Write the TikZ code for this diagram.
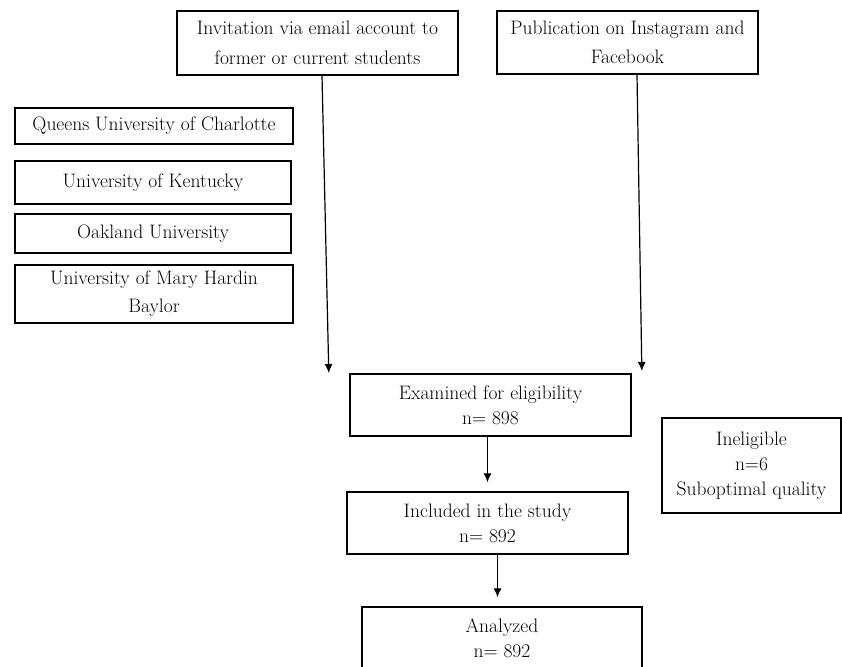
\documentclass[tikz,border=0pt]{standalone}
\usepackage{fontspec}
\usepackage{tikz}
\usetikzlibrary{positioning,arrows.meta}

\tikzset{
  box/.style={draw, line width=1.3pt, align=center, inner sep=0pt,
    font=\fontsize{19.5}{25}\selectfont},
  wide/.style={font=\fontsize{19.5}{29.5}\selectfont},
  flow/.style={line width=1.2pt, -{Latex[length=9pt,width=8pt]}, shorten >=9pt}
}

\begin{document}
\begin{tikzpicture}[x=1pt,y=-1pt]
\useasboundingbox (0,0) rectangle (842,666);
\clip (0,0) rectangle (842,666);
% sources
\node[box, wide, minimum width=281pt, minimum height=64pt] (invit) at (317.5,43) {Invitation via email account to\\former or current students};
\node[box, wide, minimum width=261pt, minimum height=63pt] (publi) at (627.5,42.5) {Publication on Instagram and\\Facebook};
% universities
\node[box, minimum width=278pt, minimum height=36pt] (queens) at (154,126) {Queens University of Charlotte};
\node[box, minimum width=276pt, minimum height=43pt] (kentucky) at (153,182.5) {University of Kentucky};
\node[box, minimum width=276pt, minimum height=39pt] (oakland) at (153,233.5) {Oakland University};
\node[box, font=\fontsize{19.5}{28}\selectfont, minimum width=278pt, minimum height=58pt] (mary) at (154,294) {University of Mary Hardin\\Baylor};
% flow
\node[box, minimum width=281pt, minimum height=62pt] (exam) at (490.5,405) {Examined for eligibility\\n= 898};
\node[box, minimum width=281pt, minimum height=62pt] (incl) at (487.5,523) {Included in the study\\n= 892};
\node[box, minimum width=280pt, minimum height=62pt] (anal) at (502,638) {Analyzed\\n= 892};
\node[box, minimum width=179pt, minimum height=95pt] (inel) at (751.5,465.5) {Ineligible\\n=6\\Suboptimal quality};
% arrows
\coordinate (endinvit) at (329,382);
\coordinate (endpubli) at (642,380);
\draw[flow] (invit.south -| 322,0) -- (endinvit);
\draw[flow] (publi.south -| 637,0) -- (endpubli);
\draw[flow] (exam.south -| incl.center) -- (incl.north);
\draw[flow] ([xshift=10pt]incl.south) -- ([xshift=10pt]incl.south |- anal.north);
\end{tikzpicture}
\end{document}
